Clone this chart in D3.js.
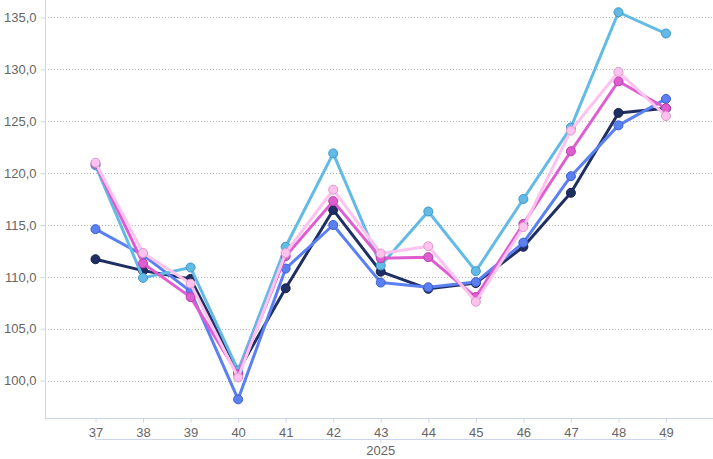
<!DOCTYPE html>
<html><head><meta charset="utf-8">
<script src="https://cdn.jsdelivr.net/npm/d3@7"></script>
<style>body{margin:0;background:#fff}svg{display:block;font-family:"Liberation Sans",Arial,sans-serif}</style>
</head><body><svg id="c" width="713" height="459"></svg>
<script>
const weeks = [37,38,39,40,41,42,43,44,45,46,47,48,49];
const yearLabel = "2025";
const yTicks = [100,105,110,115,120,125,130,135];
const seriesColors = ["#1f2f63","#5b80f2","#62bbe6","#e05cd1","#ffc2ee"];
const seriesStroke = ["#14204a","#3d5fd0","#3f98c4","#b83eab","#d89ac8"];
const navy    = [111.7,110.6,109.8,100.9,108.9,116.45,110.5,108.85,109.4,112.9,118.1,125.8,126.25];
const blue    = [114.6,112.1,108.6,98.2,110.8,115.0,109.45,109.0,109.5,113.3,119.7,124.6,127.15];
const cyan    = [120.75,109.9,110.9,101.0,112.9,121.9,111.1,116.3,110.55,117.5,124.4,135.5,133.45];
const magenta = [120.9,111.3,108.05,100.6,112.0,117.3,111.8,111.9,108.05,115.1,122.1,128.85,126.25];
const pink    = [121.0,112.3,109.35,100.3,112.3,118.4,112.25,112.95,107.6,114.8,124.1,129.75,125.5];
const series = [navy,blue,cyan,magenta,pink];

(function(){
const svg = d3.select("#c");
const pl = 45, pr = 713, pt = 0, pb = 418;
const x = d3.scalePoint().domain(weeks).range([95.5,666]);
const y = d3.scaleLinear().domain([96.4,136.68]).range([pb, pt]);

svg.append("g").selectAll("line").data(yTicks).join("line")
  .attr("x1",pl).attr("x2",pr).attr("y1",d=>Math.round(y(d))+0.5).attr("y2",d=>Math.round(y(d))+0.5)
  .attr("stroke","#b5b5b5").attr("stroke-width",1).attr("stroke-dasharray","1,2");

const yAxis = d3.axisLeft(y).tickValues(yTicks).tickSize(5).tickPadding(4)
  .tickFormat(d=>d3.format(".1f")(d).replace(".",","));
const gy = svg.append("g").attr("transform",`translate(${pl+0.5},0)`).call(yAxis);
gy.select(".domain").attr("stroke","#ccd6eb").attr("d",`M0,${pt}V${pb}`);
gy.selectAll(".tick line").attr("stroke","#ccd6eb");
gy.selectAll("text").attr("fill","#666").style("font-size","13px").style("font-family","Liberation Sans, Arial, sans-serif");

const xAxis = d3.axisBottom(x).tickSize(4).tickPadding(5);
const gx = svg.append("g").attr("transform",`translate(0,${pb+0.5})`).call(xAxis);
gx.select(".domain").attr("stroke","#ccd6eb").attr("d",`M${pl},0H${pr}`);
gx.selectAll(".tick line").attr("stroke","#ccd6eb");
gx.selectAll("text").attr("fill","#666").style("font-size","13px").style("font-family","Liberation Sans, Arial, sans-serif");

const by = 439.5;
const x0 = x(weeks[0]), x1 = x(weeks[weeks.length-1]);
const xm = x(weeks[Math.floor(weeks.length/2)]);
svg.append("path").attr("d",`M${x0},${by-5}V${by}H${x1}V${by-5}`).attr("fill","none").attr("stroke","#ccd6eb");
svg.append("line").attr("x1",xm).attr("x2",xm).attr("y1",by).attr("y2",by+4).attr("stroke","#ccd6eb");
svg.append("text").attr("x",xm).attr("y",455).attr("text-anchor","middle").attr("fill","#666")
  .style("font-size","13px").text(yearLabel);

const line = d3.line().x((d,i)=>x(weeks[i])).y(d=>y(d));
series.forEach((s,k)=>{
  const g = svg.append("g");
  g.append("path").datum(s).attr("d",line).attr("fill","none")
    .attr("stroke",seriesColors[k]).attr("stroke-width",3).attr("stroke-linejoin","round").attr("stroke-linecap","round");
  g.selectAll("circle").data(s).join("circle")
    .attr("cx",(d,i)=>x(weeks[i])).attr("cy",d=>y(d)).attr("r",4.5)
    .attr("fill",seriesColors[k]).attr("stroke",seriesStroke[k]).attr("stroke-width",1);
});
})();
</script></body></html>
